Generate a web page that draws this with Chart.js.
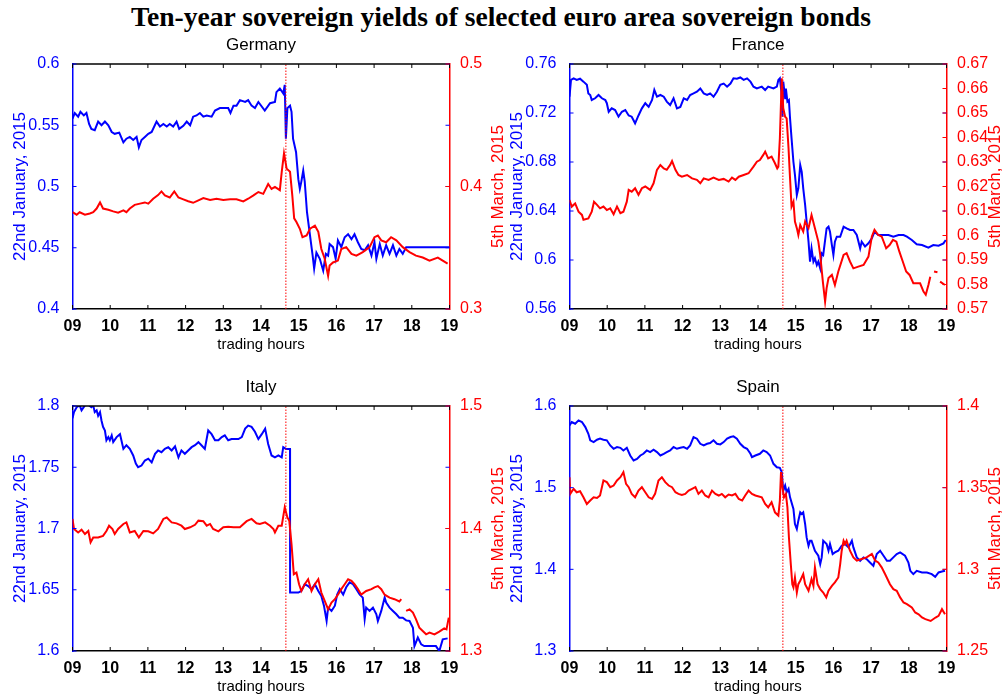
<!DOCTYPE html>
<html>
<head>
<meta charset="utf-8">
<script src="https://cdn.jsdelivr.net/npm/chart.js@4.4.1/dist/chart.umd.min.js"></script>
<style>
  html, body { margin: 0; padding: 0; background: #fff; }
  body { width: 1002px; height: 699px; position: relative; overflow: hidden; }
  #suptitle { position: absolute; left: 0; top: 1px; width: 1002px; text-align: center;
    font: bold 27.6px "Liberation Serif", "Times New Roman", serif; color: #000; line-height: 32px; }
  .panel { position: absolute; width: 505px; height: 340px; }
</style>
</head>
<body>
<div id="suptitle">Ten-year sovereign yields of selected euro area sovereign bonds</div>
<div class="panel" style="left:0;top:30px"><canvas id="germany" width="505" height="340"></canvas></div>
<div class="panel" style="left:497px;top:30px"><canvas id="france" width="505" height="340"></canvas></div>
<div class="panel" style="left:0;top:372px"><canvas id="italy" width="505" height="340"></canvas></div>
<div class="panel" style="left:497px;top:372px"><canvas id="spain" width="505" height="340"></canvas></div>
<script>
// x axis: trading hours
const hourTicks = [9, 10, 11, 12, 13, 14, 15, 16, 17, 18, 19];
const hourLabels = ['09', '10', '11', '12', '13', '14', '15', '16', '17', '18', '19'];
const announcement = 14.66; // dotted marker

// [hour, yield]
const germanyJan = [[9.00,.5555],[9.06,.560],[9.15,.557],[9.21,.561],[9.30,.558],[9.37,.560],[9.44,.551],[9.50,.547],[9.59,.546],[9.68,.553],[9.77,.550],[9.86,.553],[9.95,.550],[10.04,.5445],[10.12,.543],[10.24,.544],[10.35,.536],[10.43,.539],[10.52,.5405],[10.61,.538],[10.70,.5405],[10.76,.532],[10.83,.538],[10.92,.5405],[11.01,.543],[11.10,.5445],[11.23,.553],[11.32,.549],[11.41,.551],[11.50,.549],[11.58,.551],[11.67,.549],[11.76,.553],[11.83,.547],[11.94,.5495],[12.03,.553],[12.12,.550],[12.20,.557],[12.29,.558],[12.38,.560],[12.47,.557],[12.56,.558],[12.69,.557],[12.78,.562],[12.91,.564],[13.04,.564],[13.13,.564],[13.19,.560],[13.27,.566],[13.35,.566],[13.44,.5705],[13.58,.569],[13.66,.5705],[13.75,.566],[13.84,.564],[13.93,.569],[14.10,.562],[14.24,.568],[14.37,.569],[14.41,.577],[14.50,.580],[14.59,.576],[14.63,.583],[14.66,.539],[14.70,.564],[14.77,.566],[14.81,.561],[14.85,.539],[14.93,.528],[14.99,.506],[15.03,.498],[15.07,.504],[15.12,.513],[15.16,.504],[15.22,.479],[15.30,.460],[15.37,.4436],[15.41,.433],[15.47,.446],[15.56,.441],[15.65,.4313],[15.72,.445],[15.78,.4436],[15.82,.453],[15.91,.4505],[15.98,.441],[16.04,.456],[16.13,.4505],[16.22,.4586],[16.31,.461],[16.40,.457],[16.48,.461],[16.57,.4545],[16.66,.449],[16.75,.448],[16.84,.452],[16.93,.4436],[17.01,.4545],[17.06,.441],[17.15,.453],[17.23,.4436],[17.32,.452],[17.41,.445],[17.50,.452],[17.59,.4436],[17.67,.449],[17.76,.445],[17.85,.4505],[19.00,.4505]];
const germanyMar = [[9.00,.379],[9.11,.377],[9.19,.379],[9.33,.377],[9.46,.378],[9.55,.379],[9.64,.382],[9.73,.387],[9.81,.382],[9.95,.381],[10.08,.3797],[10.21,.3786],[10.35,.3805],[10.43,.379],[10.52,.382],[10.65,.385],[10.79,.386],[10.92,.387],[11.01,.386],[11.14,.390],[11.27,.393],[11.36,.396],[11.45,.3927],[11.58,.391],[11.70,.396],[11.81,.391],[11.94,.3895],[12.07,.388],[12.20,.3867],[12.34,.3887],[12.47,.3906],[12.65,.389],[12.82,.390],[13.00,.389],[13.18,.3895],[13.35,.3895],[13.53,.3878],[13.66,.390],[13.80,.3927],[13.93,.3955],[14.06,.394],[14.19,.402],[14.28,.398],[14.37,.3996],[14.50,.397],[14.55,.412],[14.61,.427],[14.68,.4146],[14.77,.412],[14.83,.3927],[14.88,.374],[14.94,.371],[15.03,.3655],[15.10,.3586],[15.21,.360],[15.30,.3655],[15.43,.368],[15.52,.363],[15.60,.349],[15.69,.341],[15.78,.327],[15.82,.3355],[15.91,.338],[16.04,.3395],[16.13,.349],[16.26,.3505],[16.40,.345],[16.53,.3436],[16.70,.3464],[16.88,.3505],[17.01,.3586],[17.10,.360],[17.19,.356],[17.32,.3545],[17.45,.3586],[17.59,.356],[17.76,.3505],[17.94,.3464],[18.11,.3436],[18.29,.342],[18.47,.3395],[18.69,.342],[18.82,.3395],[18.95,.337]];

const franceJan = [[9.00,.7333],[9.04,.747],[9.11,.7483],[9.19,.747],[9.28,.748],[9.37,.7456],[9.46,.743],[9.50,.736],[9.55,.7347],[9.59,.7306],[9.68,.732],[9.77,.7347],[9.86,.732],[9.95,.7306],[9.99,.728],[10.04,.721],[10.12,.7238],[10.21,.7224],[10.30,.717],[10.39,.721],[10.48,.7224],[10.57,.718],[10.65,.717],[10.74,.7116],[10.83,.718],[10.92,.7238],[11.01,.728],[11.10,.725],[11.19,.7306],[11.25,.7388],[11.32,.7333],[11.41,.7347],[11.50,.7333],[11.58,.7293],[11.67,.7265],[11.76,.732],[11.85,.7238],[11.94,.725],[12.03,.732],[12.12,.7306],[12.20,.7347],[12.29,.736],[12.38,.7374],[12.47,.740],[12.56,.736],[12.65,.7347],[12.73,.736],[12.82,.7333],[12.91,.7374],[13.00,.743],[13.09,.744],[13.18,.7415],[13.27,.744],[13.35,.7483],[13.44,.748],[13.53,.749],[13.62,.747],[13.71,.7483],[13.80,.7456],[13.88,.7415],[13.97,.740],[14.10,.7415],[14.19,.7388],[14.27,.7415],[14.41,.740],[14.50,.7415],[14.54,.747],[14.58,.7483],[14.62,.7374],[14.65,.717],[14.67,.7456],[14.72,.732],[14.74,.740],[14.78,.7293],[14.82,.7306],[14.85,.7156],[14.89,.6993],[14.94,.680],[14.98,.6694],[15.03,.653],[15.07,.6585],[15.12,.6776],[15.16,.672],[15.20,.6585],[15.25,.645],[15.29,.6313],[15.34,.615],[15.38,.5986],[15.42,.6095],[15.47,.5986],[15.51,.6014],[15.56,.5959],[15.60,.5986],[15.65,.5932],[15.69,.6055],[15.73,.6041],[15.78,.6163],[15.82,.6258],[15.87,.6272],[15.91,.623],[15.96,.6122],[16.00,.6041],[16.04,.615],[16.09,.619],[16.18,.619],[16.27,.6272],[16.35,.6258],[16.44,.6245],[16.53,.6245],[16.62,.6204],[16.71,.6095],[16.75,.615],[16.84,.611],[16.93,.6136],[17.02,.6177],[17.09,.623],[17.19,.6204],[17.33,.6204],[17.46,.6204],[17.59,.619],[17.73,.6204],[17.86,.6204],[17.95,.619],[18.08,.6163],[18.21,.6128],[18.35,.6122],[18.52,.610],[18.65,.6122],[18.79,.6117],[18.92,.6136],[18.98,.6163]];
const franceMar = [[9.00,.6145],[9.06,.6118],[9.15,.6131],[9.24,.6097],[9.33,.6084],[9.37,.6064],[9.50,.607],[9.59,.6097],[9.65,.6138],[9.73,.6125],[9.81,.6111],[9.90,.6118],[9.99,.6104],[10.08,.6111],[10.17,.6087],[10.26,.6118],[10.35,.6091],[10.43,.6097],[10.52,.6138],[10.57,.6186],[10.65,.6179],[10.74,.6193],[10.83,.6166],[10.92,.6193],[11.01,.620],[11.14,.6186],[11.23,.6213],[11.32,.6268],[11.41,.6288],[11.50,.6274],[11.58,.6268],[11.67,.6288],[11.72,.6304],[11.81,.6268],[11.89,.6247],[11.98,.624],[12.12,.6247],[12.25,.6233],[12.38,.6227],[12.47,.6213],[12.56,.6233],[12.69,.6227],[12.82,.6236],[12.96,.6227],[13.09,.6231],[13.22,.622],[13.31,.6236],[13.40,.6227],[13.49,.624],[13.62,.6247],[13.75,.6254],[13.88,.6281],[13.97,.6301],[14.05,.6308],[14.14,.6329],[14.19,.6342],[14.27,.6315],[14.36,.6322],[14.45,.6295],[14.51,.6274],[14.54,.6281],[14.58,.6397],[14.63,.6642],[14.67,.6519],[14.72,.6485],[14.76,.6478],[14.81,.6356],[14.85,.6233],[14.89,.6118],[14.94,.6138],[14.98,.6057],[15.03,.603],[15.07,.6002],[15.12,.6043],[15.20,.6016],[15.25,.6057],[15.34,.603],[15.42,.6084],[15.51,.603],[15.60,.5975],[15.65,.5921],[15.72,.5812],[15.78,.573],[15.82,.5785],[15.87,.5826],[15.96,.5839],[16.04,.5798],[16.13,.5853],[16.27,.5921],[16.35,.5928],[16.44,.5894],[16.53,.5866],[16.66,.5873],[16.80,.588],[16.93,.5914],[17.02,.5996],[17.09,.6023],[17.19,.6002],[17.28,.5996],[17.40,.5948],[17.49,.5961],[17.58,.5982],[17.67,.5975],[17.75,.5934],[17.84,.5894],[17.93,.5853],[18.02,.5839],[18.12,.5805],[18.30,.5805],[18.39,.5771],[18.45,.5758],[18.52,.5798],[18.57,.5832],[18.60,null],[18.67,.5853],[18.76,.585],[18.79,null],[18.83,.5812],[18.96,.5798]];

const italyJan = [[9.00,1.790],[9.04,1.795],[9.11,1.799],[9.19,1.8005],[9.24,1.7965],[9.33,1.8005],[9.42,1.801],[9.50,1.799],[9.55,1.8005],[9.59,1.795],[9.64,1.7965],[9.68,1.792],[9.73,1.795],[9.77,1.788],[9.81,1.783],[9.86,1.780],[9.90,1.772],[9.95,1.7746],[9.99,1.772],[10.04,1.776],[10.08,1.7705],[10.17,1.7746],[10.26,1.777],[10.35,1.765],[10.43,1.768],[10.52,1.765],[10.61,1.7596],[10.68,1.753],[10.74,1.750],[10.83,1.7514],[10.92,1.7555],[11.01,1.757],[11.10,1.754],[11.19,1.761],[11.27,1.7637],[11.36,1.7623],[11.45,1.765],[11.54,1.7664],[11.63,1.7637],[11.72,1.767],[11.81,1.758],[11.89,1.7637],[11.98,1.761],[12.07,1.7637],[12.16,1.7664],[12.25,1.768],[12.34,1.7705],[12.42,1.768],[12.51,1.765],[12.60,1.780],[12.69,1.777],[12.78,1.772],[12.87,1.772],[12.96,1.7746],[13.04,1.776],[13.13,1.772],[13.22,1.773],[13.31,1.773],[13.40,1.773],[13.49,1.7746],[13.58,1.7815],[13.66,1.784],[13.75,1.783],[13.84,1.779],[13.93,1.773],[14.02,1.777],[14.11,1.7815],[14.19,1.769],[14.28,1.7596],[14.37,1.758],[14.46,1.7596],[14.55,1.758],[14.59,1.7664],[14.66,1.765],[14.77,1.765],[14.771,1.6477],[14.99,1.6477],[15.07,1.649],[15.16,1.6545],[15.25,1.653],[15.34,1.6505],[15.43,1.6545],[15.52,1.649],[15.60,1.645],[15.67,1.637],[15.74,1.6245],[15.78,1.6354],[15.87,1.6327],[15.96,1.637],[16.02,1.646],[16.09,1.6505],[16.18,1.646],[16.26,1.652],[16.35,1.656],[16.44,1.6545],[16.53,1.6505],[16.62,1.646],[16.70,1.6436],[16.75,1.626],[16.79,1.6354],[16.88,1.6327],[16.97,1.6354],[17.06,1.630],[17.10,1.6245],[17.19,1.6327],[17.28,1.6436],[17.32,1.6395],[17.41,1.6354],[17.50,1.6327],[17.59,1.630],[17.67,1.6272],[17.76,1.6272],[17.85,1.625],[17.94,1.6245],[18.03,1.619],[18.07,1.604],[18.16,1.611],[18.25,1.6054],[18.33,1.604],[18.51,1.604],[18.64,1.604],[18.73,1.600],[18.82,1.6095],[18.95,1.6103]];
const italyMar = [[9.00,1.4078],[9.04,1.3996],[9.15,1.3968],[9.24,1.399],[9.33,1.3955],[9.42,1.398],[9.48,1.3887],[9.55,1.3927],[9.68,1.3927],[9.81,1.394],[9.90,1.398],[9.97,1.4023],[10.06,1.3996],[10.12,1.3955],[10.21,1.3996],[10.35,1.4037],[10.43,1.405],[10.52,1.3968],[10.65,1.398],[10.76,1.3927],[10.88,1.398],[11.01,1.3977],[11.14,1.396],[11.27,1.3996],[11.41,1.4078],[11.50,1.409],[11.63,1.405],[11.76,1.4042],[11.89,1.4023],[11.98,1.3996],[12.12,1.401],[12.25,1.403],[12.34,1.4064],[12.47,1.406],[12.56,1.4023],[12.65,1.4037],[12.73,1.3996],[12.87,1.3977],[13.00,1.401],[13.13,1.4015],[13.27,1.401],[13.44,1.401],[13.62,1.406],[13.75,1.4078],[13.88,1.4042],[13.97,1.4037],[14.11,1.405],[14.24,1.4023],[14.33,1.3996],[14.37,1.3968],[14.46,1.4023],[14.55,1.4023],[14.63,1.4173],[14.70,1.409],[14.75,1.4064],[14.81,1.387],[14.87,1.3627],[14.94,1.364],[15.01,1.3545],[15.07,1.349],[15.16,1.3545],[15.25,1.3586],[15.34,1.349],[15.43,1.3545],[15.52,1.3586],[15.60,1.3477],[15.69,1.341],[15.78,1.334],[15.87,1.3395],[15.96,1.3423],[16.04,1.346],[16.13,1.3505],[16.22,1.3545],[16.31,1.3586],[16.40,1.3573],[16.48,1.3545],[16.57,1.3505],[16.66,1.346],[16.79,1.349],[16.93,1.3505],[17.01,1.352],[17.10,1.353],[17.19,1.3505],[17.28,1.346],[17.41,1.3436],[17.54,1.3423],[17.67,1.3404],[17.72,1.3423],[17.78,null],[17.85,1.3327],[17.94,1.334],[18.03,1.3313],[18.11,1.326],[18.20,1.319],[18.29,1.3163],[18.38,1.3136],[18.47,1.315],[18.60,1.3136],[18.73,1.3158],[18.86,1.3185],[18.92,1.3177],[18.98,1.3272]];

const spainJan = [[9.00,1.5763],[9.06,1.5804],[9.15,1.5783],[9.24,1.5824],[9.33,1.5804],[9.42,1.5742],[9.50,1.566],[9.55,1.558],[9.64,1.5558],[9.73,1.5587],[9.81,1.560],[9.90,1.5587],[9.99,1.558],[10.08,1.5517],[10.17,1.5476],[10.26,1.5497],[10.35,1.5488],[10.43,1.5456],[10.52,1.5488],[10.61,1.5394],[10.70,1.5333],[10.79,1.5353],[10.88,1.5394],[10.96,1.5415],[11.05,1.5456],[11.14,1.5435],[11.23,1.5464],[11.32,1.5435],[11.41,1.5394],[11.50,1.5415],[11.58,1.5435],[11.67,1.5456],[11.76,1.5497],[11.85,1.5476],[11.94,1.5488],[12.03,1.5497],[12.12,1.5476],[12.20,1.5517],[12.29,1.562],[12.38,1.560],[12.47,1.5537],[12.56,1.5517],[12.65,1.5537],[12.73,1.5546],[12.82,1.558],[12.91,1.5537],[13.00,1.553],[13.09,1.5558],[13.18,1.560],[13.27,1.562],[13.35,1.5628],[13.44,1.560],[13.53,1.5537],[13.62,1.5497],[13.71,1.5476],[13.80,1.5415],[13.84,1.5374],[13.93,1.5394],[14.05,1.5415],[14.14,1.5456],[14.23,1.5435],[14.32,1.5394],[14.41,1.5292],[14.50,1.525],[14.58,1.5243],[14.63,1.519],[14.67,1.4964],[14.72,1.5026],[14.76,1.4944],[14.81,1.4985],[14.85,1.4882],[14.94,1.474],[14.98,1.4555],[15.03,1.4494],[15.07,1.4596],[15.12,1.4698],[15.16,1.4678],[15.20,1.4698],[15.25,1.4555],[15.29,1.4391],[15.34,1.4289],[15.38,1.435],[15.42,1.435],[15.51,1.4228],[15.60,1.4166],[15.65,1.4064],[15.69,1.4146],[15.73,1.435],[15.82,1.431],[15.87,1.4228],[15.91,1.431],[15.98,1.4187],[16.04,1.4207],[16.13,1.4228],[16.22,1.4289],[16.31,1.431],[16.40,1.4269],[16.49,1.435],[16.53,1.4269],[16.62,1.4146],[16.71,1.4105],[16.80,1.4146],[16.88,1.4125],[16.97,1.4084],[17.06,1.4043],[17.15,1.4187],[17.24,1.4228],[17.33,1.4166],[17.42,1.4105],[17.50,1.4105],[17.59,1.4146],[17.68,1.4187],[17.77,1.4207],[17.90,1.4166],[17.99,1.4084],[18.04,1.3982],[18.12,1.3941],[18.21,1.3982],[18.35,1.3962],[18.48,1.3962],[18.61,1.3941],[18.70,1.3908],[18.79,1.3962],[18.88,1.3974],[18.96,1.3982]];
const spainMar = [[9.00,1.3564],[9.02,1.3462],[9.11,1.3493],[9.19,1.3472],[9.28,1.3478],[9.37,1.3441],[9.46,1.34],[9.55,1.3421],[9.64,1.3441],[9.73,1.3437],[9.81,1.3452],[9.90,1.3544],[9.99,1.3534],[10.08,1.3503],[10.17,1.3513],[10.26,1.3544],[10.35,1.3564],[10.43,1.3595],[10.50,1.3523],[10.57,1.3503],[10.65,1.3462],[10.74,1.3441],[10.83,1.3482],[10.92,1.3503],[11.01,1.3472],[11.10,1.3441],[11.19,1.3431],[11.27,1.3462],[11.36,1.3544],[11.45,1.3564],[11.54,1.3534],[11.63,1.3513],[11.72,1.3503],[11.81,1.3472],[11.89,1.3462],[11.98,1.3456],[12.07,1.3462],[12.16,1.3482],[12.25,1.3493],[12.34,1.3503],[12.42,1.3462],[12.51,1.3482],[12.60,1.3452],[12.69,1.3441],[12.78,1.3482],[12.87,1.3462],[12.96,1.3452],[13.04,1.3462],[13.13,1.3441],[13.22,1.3458],[13.31,1.3452],[13.40,1.3462],[13.49,1.3431],[13.58,1.3421],[13.66,1.3452],[13.75,1.3482],[13.84,1.3462],[13.93,1.3452],[14.10,1.3441],[14.19,1.34],[14.27,1.338],[14.36,1.3411],[14.45,1.3349],[14.54,1.3329],[14.58,1.3421],[14.61,1.3595],[14.65,1.35],[14.69,1.3441],[14.74,1.3462],[14.78,1.338],[14.82,1.3196],[14.87,1.3032],[14.91,1.2909],[14.94,1.2889],[14.98,1.295],[15.03,1.2858],[15.07,1.2909],[15.12,1.293],[15.20,1.2971],[15.25,1.2909],[15.34,1.2869],[15.42,1.294],[15.47,1.2899],[15.51,1.3012],[15.58,1.2909],[15.65,1.2879],[15.73,1.2858],[15.81,1.2828],[15.87,1.2869],[15.96,1.2899],[16.04,1.292],[16.13,1.295],[16.18,1.3032],[16.22,1.3114],[16.27,1.3175],[16.31,1.3155],[16.35,1.3175],[16.44,1.3114],[16.53,1.3073],[16.62,1.3053],[16.75,1.3063],[16.88,1.3073],[17.02,1.3094],[17.11,1.3053],[17.19,1.3042],[17.28,1.3012],[17.37,1.2971],[17.50,1.2909],[17.59,1.2879],[17.68,1.2869],[17.77,1.2828],[17.86,1.2797],[17.95,1.2787],[18.08,1.2766],[18.17,1.2736],[18.26,1.2725],[18.35,1.2705],[18.44,1.2695],[18.58,1.2684],[18.71,1.2705],[18.79,1.2715],[18.88,1.2756],[18.96,1.2725]];

// axis ticks (left = 22nd January, right = 5th March)
const germanyLeftTicks = [0.4, 0.45, 0.5, 0.55, 0.6];
const germanyRightTicks = [0.3, 0.4, 0.5];
const franceLeftTicks = [0.56, 0.6, 0.64, 0.68, 0.72, 0.76];
const franceRightTicks = [0.57, 0.58, 0.59, 0.6, 0.61, 0.62, 0.63, 0.64, 0.65, 0.66, 0.67];
const italyLeftTicks = [1.6, 1.65, 1.7, 1.75, 1.8];
const italyRightTicks = [1.3, 1.4, 1.5];
const spainLeftTicks = [1.3, 1.4, 1.5, 1.6];
const spainRightTicks = [1.25, 1.3, 1.35, 1.4];

const BLUE = '#0000ff';
const RED = '#ff0000';
Chart.defaults.font.family = '"Liberation Sans", Arial, sans-serif';

const toPoints = arr => arr.map(([x, y]) => ({x, y}));
const fmt = v => String(+v.toFixed(3));

// box, inward tick marks and the right-hand axis title (drawn bottom-to-top)
const framePlugin = {
  id: 'frame',
  afterDraw(chart) {
    const {ctx, chartArea: a, scales: {x, y, y1}} = chart;
    const seg = (x0, y0, x1, y1_) => { ctx.beginPath(); ctx.moveTo(x0, y0); ctx.lineTo(x1, y1_); ctx.stroke(); };
    ctx.save();
    ctx.strokeStyle = '#000';
    ctx.lineWidth = 1.5;
    seg(a.left, a.top, a.right, a.top);
    ctx.lineWidth = 1;
    x.ticks.forEach(t => {
      const px = x.getPixelForValue(t.value);
      seg(px, a.bottom, px, a.bottom - 4);
      seg(px, a.top, px, a.top + 4);
    });
    ctx.strokeStyle = BLUE;
    y.ticks.forEach(t => {
      const py = y.getPixelForValue(t.value);
      seg(a.left, py, a.left + 4, py);
      seg(a.right, py, a.right - 4, py);
    });
    ctx.strokeStyle = RED;
    y1.ticks.forEach(t => {
      const py = y1.getPixelForValue(t.value);
      seg(a.right, py, a.right - 4, py);
    });
    ctx.fillStyle = RED;
    ctx.font = '17px "Liberation Sans", Arial, sans-serif';
    ctx.translate(y1.right - 2.5, (a.top + a.bottom) / 2);
    ctx.rotate(-Math.PI / 2);
    ctx.textAlign = 'center';
    ctx.textBaseline = 'alphabetic';
    ctx.fillText('5th March, 2015', 0, 0);
    ctx.restore();
  }
};

function makePanel(id, title, jan, mar, leftTicks, rightTicks) {
  const leftMin = leftTicks[0], leftMax = leftTicks[leftTicks.length - 1];
  const rightMin = rightTicks[0], rightMax = rightTicks[rightTicks.length - 1];
  return new Chart(document.getElementById(id), {
    type: 'line',
    data: {
      datasets: [
        {
          label: 'announcement',
          data: [{x: announcement, y: leftMin}, {x: announcement, y: leftMax}],
          yAxisID: 'y', borderColor: RED, borderWidth: 1, borderDash: [1.5, 1.5], pointRadius: 0
        },
        {
          label: '5th March, 2015', data: toPoints(mar), yAxisID: 'y1',
          borderColor: RED, borderWidth: 2, pointRadius: 0, tension: 0
        },
        {
          label: '22nd January, 2015', data: toPoints(jan), yAxisID: 'y',
          borderColor: BLUE, borderWidth: 2, pointRadius: 0, tension: 0
        }
      ]
    },
    options: {
      responsive: false,
      animation: false,
      devicePixelRatio: 1,
      layout: { padding: 0 },
      plugins: {
        legend: { display: false },
        tooltip: { enabled: false },
        title: {
          display: true, text: title, fullSize: false, color: '#000',
          font: { size: 17, weight: 'normal' }, padding: { top: 5, bottom: 8.6 }
        }
      },
      scales: {
        x: {
          type: 'linear', min: 9, max: 19,
          afterBuildTicks: s => { s.ticks = hourTicks.map(v => ({value: v})); },
          afterFit: s => { s.height = 61; },
          grid: { display: false },
          border: { display: true, color: '#000', width: 1.5 },
          ticks: {
            color: '#000', padding: 0, maxRotation: 0, autoSkip: false,
            font: { size: 16, weight: 'bold' },
            callback: (v, i) => hourLabels[i]
          },
          title: {
            display: true, text: 'trading hours', color: '#000',
            font: { size: 15 }, padding: { top: 0, bottom: 16.5 }
          }
        },
        y: {
          position: 'left', min: leftMin, max: leftMax,
          afterBuildTicks: s => { s.ticks = leftTicks.map(v => ({value: v})); },
          afterFit: s => { s.width = 72.5; },
          grid: { display: false },
          border: { display: true, color: BLUE, width: 1.5 },
          ticks: { color: BLUE, padding: 5, font: { size: 16 }, callback: v => fmt(v) },
          title: {
            display: true, text: '22nd January, 2015', color: BLUE,
            font: { size: 17 }, padding: { top: 10 }
          }
        },
        y1: {
          position: 'right', min: rightMin, max: rightMax,
          afterBuildTicks: s => { s.ticks = rightTicks.map(v => ({value: v})); },
          afterFit: s => { s.width = 55.5; },
          grid: { display: false },
          border: { display: true, color: RED, width: 1.5 },
          ticks: { color: RED, padding: 2.5, font: { size: 16 }, callback: v => fmt(v) }
        }
      }
    },
    plugins: [framePlugin]
  });
}

makePanel('germany', 'Germany', germanyJan, germanyMar, germanyLeftTicks, germanyRightTicks);
makePanel('france', 'France', franceJan, franceMar, franceLeftTicks, franceRightTicks);
makePanel('italy', 'Italy', italyJan, italyMar, italyLeftTicks, italyRightTicks);
makePanel('spain', 'Spain', spainJan, spainMar, spainLeftTicks, spainRightTicks);
</script>
</body>
</html>
